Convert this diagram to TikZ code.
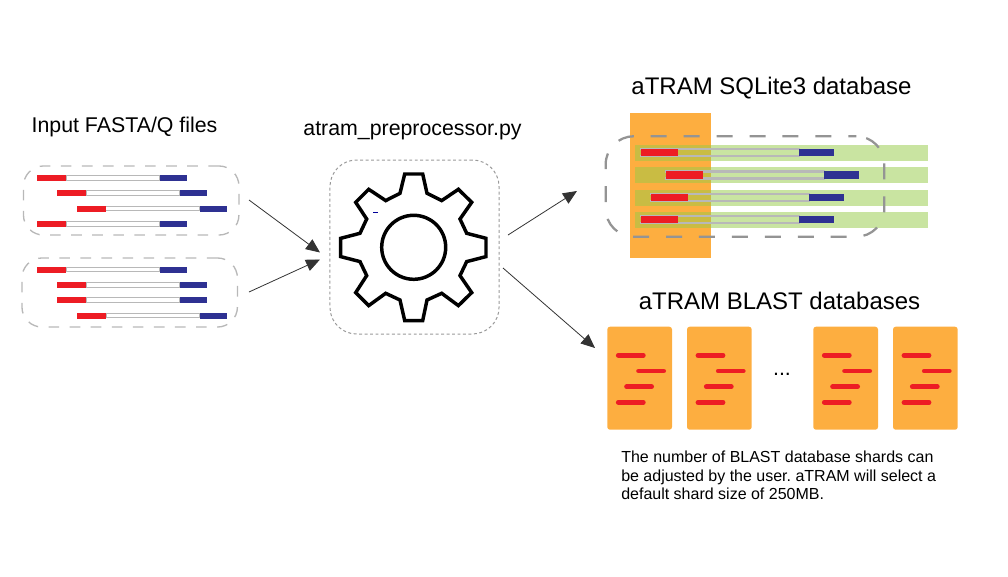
\documentclass[tikz,border=0pt]{standalone}
\usepackage{fontspec}
\setmainfont{Liberation Sans}
\usepackage{xcolor}
\usetikzlibrary{arrows.meta}

\definecolor{readred}{HTML}{ED1C24}
\definecolor{readblue}{HTML}{2E3192}
\definecolor{shardorange}{HTML}{FDAE40}
\definecolor{seqgreen}{HTML}{C9E4A1}
\definecolor{seqolive}{HTML}{C9BC43}
\definecolor{railgray}{HTML}{B8B8B8}

\tikzset{
  titletext/.style={inner sep=0pt, anchor=base, font=\fontsize{18pt}{20pt}\selectfont},
  smalltitle/.style={inner sep=0pt, anchor=base, font=\fontsize{16pt}{20pt}\selectfont},
  filebox/.style={draw=black!28, line width=1pt, rounded corners=15pt, dash pattern=on 8pt off 7.8pt, inner sep=0pt},
  toolbox/.style={draw=black!40, line width=0.75pt, rounded corners=20pt, dash pattern=on 2.2pt off 1.9pt, inner sep=0pt},
  dbbox/.style={draw=black!42, line width=1.7pt, rounded corners=21pt, dash pattern=on 12pt off 12.7pt, dash phase=6pt, inner sep=0pt},
  flow/.style={draw=black!80, line width=0.6pt, -{Triangle[length=10.5pt,width=9pt]}},
}

% one read of an input file
\newcommand{\fileread}[2]{
\draw[railgray, line width=0.9pt, fill=white] (#1+29,#2-2.2) rectangle (#1+123,#2+2.2);
\fill[readred] (#1,#2-3) rectangle (#1+29,#2+3);
\fill[readblue] (#1+123,#2-3) rectangle (#1+150,#2+3);
}

% one read on its green band
\newcommand{\dbread}[2]{
\draw[railgray, line width=1.7pt] (#1-1,#2-3.4)--++(160,0);
\draw[railgray, line width=1.7pt] (#1-1,#2+3.6)--++(160,0);
\fill[readred] (#1,#2-3.6) rectangle (#1+37,#2+3.6);
\fill[readblue] (#1+158.3,#2-3.6) rectangle (#1+193.3,#2+3.6);
}

% one BLAST shard
\newcommand{\shard}[1]{
\fill[shardorange, rounded corners=2pt] (#1,326.7) rectangle (#1+64.7,429.7);
\draw[readred, line width=3.6pt, line cap=round] (#1+11,355.3)--++(25,0);
\draw[readred, line width=3.6pt, line cap=round] (#1+31.3,371)--++(25,0);
\draw[readred, line width=3.6pt, line cap=round] (#1+19.3,386.7)--++(25,0);
\draw[readred, line width=3.6pt, line cap=round] (#1+11,402.3)--++(25,0);
}

\begin{document}
\frenchspacing
\begin{tikzpicture}[x=0.75pt,y=-0.75pt]

\useasboundingbox (0,0) rectangle (1008,576);

% input files
\node[smalltitle] (inputtitle) at (124.5,132) {Input FASTA/Q files};

\fileread{37}{178}
\fileread{57}{193}
\fileread{76.5}{208.5}
\fileread{37}{224}

\fileread{37}{269.5}
\fileread{57}{285}
\fileread{57}{300}
\fileread{77}{315.5}

\node[filebox, minimum width=161.6pt, minimum height=51.8pt] (filesa) at (131.2,200.5) {};
\node[filebox, minimum width=161.6pt, minimum height=51.8pt] (filesb) at (129.7,292.5) {};

% preprocessor
\node[smalltitle] (tooltitle) at (412.5,135) {atram\_preprocessor.py};
\node[toolbox, minimum width=126.8pt, minimum height=130.5pt] (tool) at (414.5,247) {};

\begin{scope}[shift={(413.7,247.3)}]
{
\draw[black, line width=2.6pt, line join=miter]
  (-9,-73.3)--(9,-73.3)--(13.3,-54)--(28,-46.7)--(44.7,-58)--(58,-45)--(46.3,-28.3)--(53,-14)
  --(72.3,-9)--(72.3,9.3)--(53,14.3)--(46.3,28.3)--(58,45.3)--(44.7,58.3)--(28,46)--(13.3,52.7)
  --(9,73.3)--(-9,73.3)--(-13.7,52.7)--(-28,46)--(-45,58.3)--(-58,45.3)--(-47,28.3)--(-53.7,14.3)
  --(-73,9.3)--(-73,-9)--(-53.7,-14)--(-47,-28.3)--(-58,-45)--(-45,-58)--(-28,-46.7)--(-13.7,-54)--cycle;
\draw[black, line width=2.6pt] (0,0) circle [radius=32];
\draw[blue!60!black, line width=0.6pt] (-40.3,-35)--++(5,0);
}
\end{scope}

% SQLite3 database
\node[titletext] (sqltitle) at (771.5,94.5) {aTRAM SQLite3 database};

\fill[shardorange] (630.3,113) rectangle (710.7,257.7);

\foreach \bandy in {145,167.3,189.7,212.3}
{
\fill[seqgreen] (710.7,\bandy) rectangle (928.3,\bandy+15.8);
\fill[seqolive] (634.7,\bandy) rectangle (710.7,\bandy+15.8);
}

\dbread{640.7}{152.7}
\dbread{666}{175}
\dbread{651}{197.5}
\dbread{640.7}{219.7}

\node[dbbox, minimum width=208.95pt, minimum height=75.3pt] (sqlbox) at (745,186.5) {};

% BLAST databases
\node[titletext] (blasttitle) at (779.5,309.5) {aTRAM BLAST databases};

\shard{607.3}
\shard{687}
\shard{813.3}
\shard{893}

\node[inner sep=0pt, font=\fontsize{16pt}{18pt}\selectfont] (dots) at (782,374) {...};

\node[anchor=north west, inner sep=0pt, align=left, font=\fontsize{12pt}{14pt}\selectfont] (shardnote) at (621,450.5)
{The number of BLAST database shards can\\be adjusted by the user. aTRAM will select a\\default shard size of 250MB.};

% arrows
\coordinate (fromfilesa) at (249,200);
\coordinate (fromfilesb) at (249,292);
\coordinate (intoola) at (320,252.5);
\coordinate (intoolb) at (320,259.5);
\coordinate (fromtoola) at (508,235);
\coordinate (fromtoolb) at (503,268);
\coordinate (intosql) at (577,191);
\coordinate (intoblast) at (595,348);

\draw[flow] (fromfilesa)--(intoola);
\draw[flow] (fromfilesb)--(intoolb);
\draw[flow] (fromtoola)--(intosql);
\draw[flow] (fromtoolb)--(intoblast);

\end{tikzpicture}
\end{document}
